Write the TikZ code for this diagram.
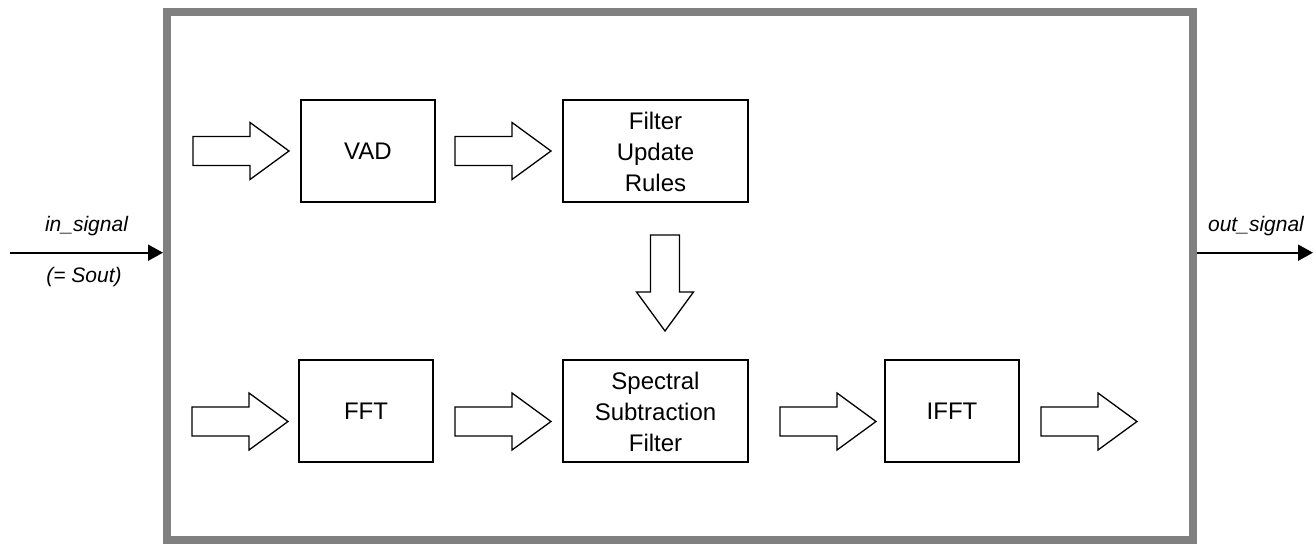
\documentclass[tikz,border=0pt]{standalone}
\usepackage{fontspec}
\setmainfont{Liberation Sans}
\usetikzlibrary{arrows.meta,positioning,calc}
\definecolor{ink}{HTML}{000000}
\definecolor{rim}{HTML}{808080}

\tikzset{
  pics/barrow/.style={code={
    \draw[fill=white, draw=ink, line width=.65pt, line join=miter]
      (0,-14.5) -- (57,-14.5) -- (57,-28.5) -- (96,0) -- (57,28.5) -- (57,14.5) -- (0,14.5) -- cycle;
  }},
}

\begin{document}
\begin{tikzpicture}[
  x=.5pt, y=-.5pt,
  font=\fontsize{12}{15.5}\selectfont,
  blk/.style={draw=ink, fill=white, line width=1pt, align=center, inner sep=2pt,
              minimum width=#1, minimum height=51pt},
  blk/.default=67pt,
  frame/.style={draw=rim, line width=4pt, minimum width=513pt, minimum height=264pt},
  sig/.style={-{Triangle[length=7.5pt, width=8pt]}, draw=ink, line width=1pt},
  lbl/.style={font=\fontsize{10.5}{12}\selectfont\itshape, inner sep=1pt},
]
\useasboundingbox (0,0) rectangle (1314,544);

%% ---------------- system frame ----------------
\node[frame] (sys) at (680,276) {};

%% ---------------- row 1 : detection ----------------
\node[blk] (vad) at (368,151.5) {VAD};
\node[blk=92.5pt] (upd) at (655.5,151.5) {Filter\\Update\\Rules};

\pic at (193,151) {barrow};
\pic at (455,151) {barrow};

%% ---------------- row 2 : filtering ----------------
\node[blk] (fft) at (366,411.5) {FFT};
\node[blk=92.5pt] (ssf) at (655.5,411.5) {Spectral\\Subtraction\\Filter};
\node[blk] (ifft) at (952,411.5) {IFFT};

\pic at (192,421.5) {barrow};
\pic at (455,421.5) {barrow};
\pic at (780,421.5) {barrow};
\pic at (1041,421.5) {barrow};

%% update rules -> filter
\pic[rotate=-90] at (665,235) {barrow};

%% ---------------- signals ----------------
\coordinate (src) at (10,252.7);
\coordinate (snk) at (1313,252.7);
\draw[sig] (src) -- (src -| sys.west);
\draw[sig] (snk -| sys.east) -- (snk);

\node[lbl] (inlbl) at (86.5,226) {in\_signal};
\node[lbl] (inalt) at (84,277) {(= Sout)};
\node[lbl] (outlbl) at (1256,226) {out\_signal};

\end{tikzpicture}
\end{document}
